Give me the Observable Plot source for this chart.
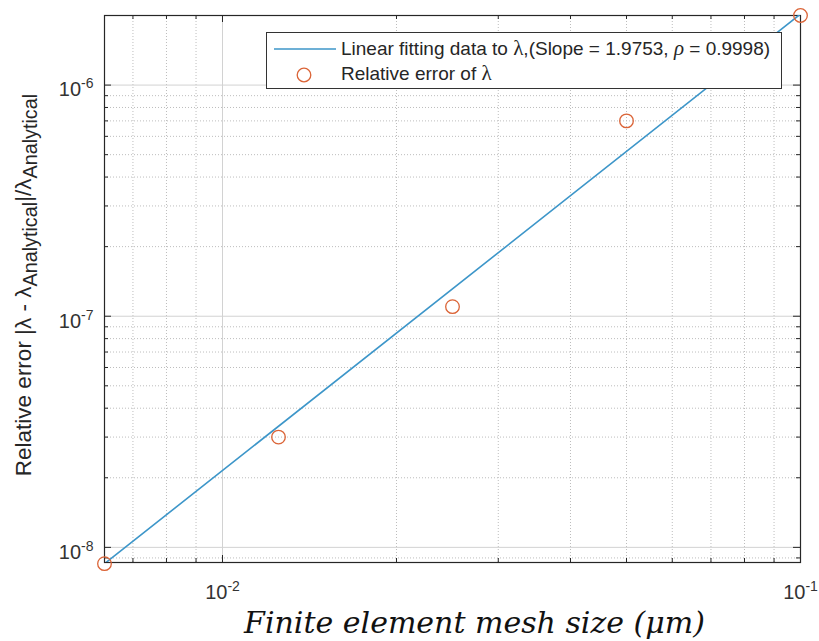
<!DOCTYPE html>
<html>
<head>
<meta charset="utf-8">
<script src="https://cdn.jsdelivr.net/npm/d3@7"></script>
<script src="https://cdn.jsdelivr.net/npm/@observablehq/plot@0.6"></script>
<style>
  html, body { margin: 0; padding: 0; background: #fff; }
  #wrap { position: relative; width: 819px; height: 641px; overflow: hidden; font-family: "Liberation Sans", Arial, sans-serif; }
  #legend { position: absolute; left: 266px; top: 32px; width: 514px; height: 55px; border: 1px solid #333; background: #fff; font-size: 19px; line-height: 22px; color: #262626; }
  #legend .lbl { position: absolute; left: 74px; white-space: nowrap; }
  #legend svg { position: absolute; left: 0; top: 0; }
  .tex { font-family: "Liberation Serif", "DejaVu Serif", serif; font-size: 21px; }
  .texi { font-family: "Liberation Serif", "DejaVu Serif", serif; font-style: italic; font-size: 21px; }
</style>
</head>
<body>
<div id="wrap"></div>
<script>
// ---- data ----
const meshSize = [0.00625, 0.0125, 0.025, 0.05, 0.1];          // µm
const relError = [8.5e-9, 3.0e-8, 1.1e-7, 7.0e-7, 2.0e-6];
const fitMesh  = [0.00625, 0.1];                                  // fitted line ends
const fitError = [8.5e-9, 2.03e-6];
const fitSlope = "1.9753";
const fitRho   = "0.9998";

const xMajor = [0.01, 0.1];
const xMinor = [0.007, 0.008, 0.009, 0.02, 0.03, 0.04, 0.05, 0.06, 0.07, 0.08, 0.09];
const yMajor = [1e-8, 1e-7, 1e-6];
const yMinor = [9e-9, 2e-8, 3e-8, 4e-8, 5e-8, 6e-8, 7e-8, 8e-8, 9e-8,
                2e-7, 3e-7, 4e-7, 5e-7, 6e-7, 7e-7, 8e-7, 9e-7, 2e-6];

const xLabel = "Finite element mesh size (μm)";
const yLabel = "Relative error |λ - λ_{Analytical}|/λ_{Analytical}";
const legendFit = ["Linear fitting data to ", "λ", ",(Slope = " + fitSlope + ", ", "ρ", " = " + fitRho + ")"];
const legendPts = ["Relative error of ", "λ"];

// ---- style ----
const W = 819, H = 641;
const mL = 104, mT = 15, mR = 19, mB = 79;
const fw = W - mL - mR, fh = H - mT - mB;
const axisCol = "#262626";
const lineCol = "#3d96c9";
const dotCol  = "#db6437";
const tickFont = 20, yTitleFont = 22.5;

const points = meshSize.map((x, i) => ({x, y: relError[i]}));
const fit = fitMesh.map((x, i) => ({x, y: fitError[i]}));
const expFmt = d => `10^{${Math.round(Math.log10(d))}}`;

const plot = Plot.plot({
  width: W, height: H,
  marginLeft: mL, marginTop: mT, marginRight: mR, marginBottom: mB,
  style: {background: "#fff", fontFamily: "'Liberation Sans', Arial, sans-serif", color: axisCol},
  x: {type: "log", domain: [0.00625, 0.1], axis: null},
  y: {type: "log", domain: [8.6e-9, 2e-6], axis: null},
  marks: [
    // minor grid (dotted) and major grid (solid)
    Plot.ruleX(xMinor, {stroke: "#bdbdbd", strokeDasharray: "1,2", strokeWidth: 1}),
    Plot.ruleY(yMinor, {stroke: "#bdbdbd", strokeDasharray: "1,2", strokeWidth: 1}),
    Plot.ruleX(xMajor, {stroke: "#d2d2d2", strokeWidth: 1}),
    Plot.ruleY(yMajor, {stroke: "#d2d2d2", strokeWidth: 1}),
    // inward tick marks on all four sides
    Plot.ruleX(xMajor, {stroke: axisCol, insetTop: fh - 7}),
    Plot.ruleX(xMajor, {stroke: axisCol, insetBottom: fh - 7}),
    Plot.ruleX(xMinor, {stroke: axisCol, insetTop: fh - 4}),
    Plot.ruleX(xMinor, {stroke: axisCol, insetBottom: fh - 4}),
    Plot.ruleY(yMajor, {stroke: axisCol, insetRight: fw - 7}),
    Plot.ruleY(yMajor, {stroke: axisCol, insetLeft: fw - 7}),
    Plot.ruleY(yMinor, {stroke: axisCol, insetRight: fw - 4}),
    Plot.ruleY(yMinor, {stroke: axisCol, insetLeft: fw - 4}),
    Plot.frame({stroke: axisCol, strokeWidth: 1.2}),
    // tick labels
    Plot.text(xMajor, {x: d => d, text: expFmt, frameAnchor: "bottom", lineAnchor: "top", dy: 22, fontSize: tickFont, fill: "#333"}),
    Plot.text(yMajor, {y: d => d, text: expFmt, frameAnchor: "left", textAnchor: "end", dx: -11, dy: 5, fontSize: tickFont, fill: "#333"}),
    // data
    Plot.line(fit, {x: "x", y: "y", stroke: lineCol, strokeWidth: 1.6, clip: true}),
    Plot.dot(points, {x: "x", y: "y", r: 6.8, stroke: dotCol, strokeWidth: 1.3, fill: "none"}),
    // axis titles
    Plot.text([yLabel], {frameAnchor: "left", rotate: -90, dx: -81, dy: -4, textAnchor: "middle", fontSize: yTitleFont, fill: "#262626"}),
    Plot.text([xLabel], {frameAnchor: "bottom", dx: 22, dy: 70, textAnchor: "middle", fontSize: 30,
      fontFamily: "'DejaVu Serif', 'Liberation Serif', serif", fontStyle: "italic", fill: "#111"})
  ]
});

// turn ^{..} / _{..} markup into real superscript / subscript tspans
function richText(svg) {
  svg.querySelectorAll("text").forEach(t => {
    const s = t.textContent;
    if (!/[\^_]\{/.test(s)) return;
    const base = s.startsWith("10^") ? tickFont : yTitleFont;
    while (t.firstChild) t.removeChild(t.firstChild);
    const re = /([\^_])\{([^}]*)\}|([^\^_]+)/g;
    let m, cur = 0;
    while ((m = re.exec(s))) {
      const ts = document.createElementNS("http://www.w3.org/2000/svg", "tspan");
      let target = 0, txt, size = base;
      if (m[1] === "^") { target = -0.4 * base; txt = m[2]; size = base * 0.7; }
      else if (m[1] === "_") { target = 0.3 * base; txt = m[2]; size = base * 0.88; }
      else { txt = m[3]; }
      ts.setAttribute("dy", (target - cur).toFixed(2));
      ts.style.fontSize = size.toFixed(1) + "px";
      cur = target;
      ts.textContent = txt;
      t.appendChild(ts);
    }
  });
}

const wrap = document.getElementById("wrap");
wrap.appendChild(plot);
richText(plot);

// legend box (inside the axes, top right, as in the reference)
const legend = document.createElement("div");
legend.id = "legend";
const seg = (parts, texIdx) => parts.map((p, i) => texIdx.includes(i)
  ? `<span class="${p === "ρ" ? "texi" : "tex"}">${p}</span>` : `<span>${p}</span>`).join("");
legend.innerHTML = `
  <svg width="514" height="55">
    <line x1="7" x2="69" y1="16" y2="16" stroke="${lineCol}" stroke-width="1.6"></line>
    <circle cx="37" cy="42" r="6.8" fill="none" stroke="${dotCol}" stroke-width="1.3"></circle>
  </svg>
  <div class="lbl" style="top:4px">${seg(legendFit, [1, 3])}</div>
  <div class="lbl" style="top:29px">${seg(legendPts, [1])}</div>`;
wrap.appendChild(legend);
</script>
</body>
</html>
